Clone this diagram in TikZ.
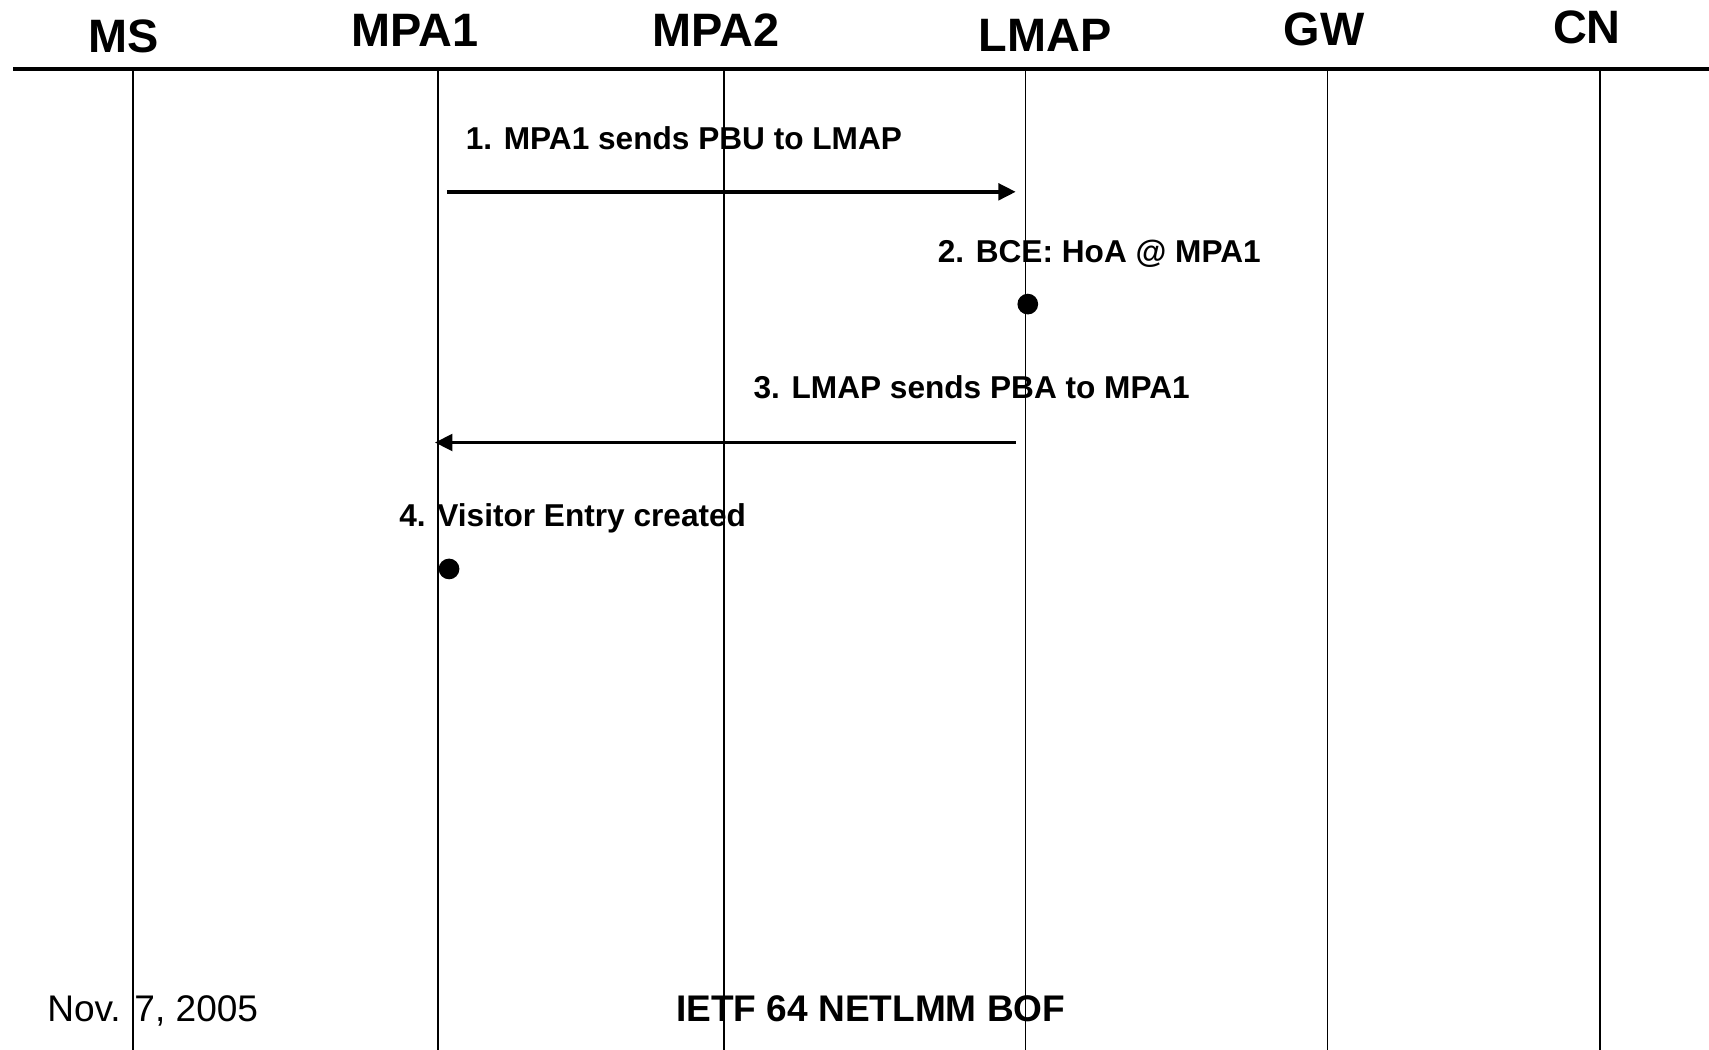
\documentclass[tikz,border=0pt]{standalone}
\usepackage{fontspec}
\setmainfont{Liberation Sans}
\usetikzlibrary{arrows.meta}
\tikzset{head/.style={font=\bfseries\fontsize{21.5}{25}\selectfont, anchor=base, inner sep=0pt},
msg/.style={font=\bfseries\fontsize{14.5}{17}\selectfont, anchor=base west, inner sep=0pt},
foot/.style={font=\fontsize{17}{20}\selectfont, anchor=base west, inner sep=0pt},
arr/.style={line width=1.8pt, -{Triangle[length=8pt,width=7.5pt]}},
dot/.style={circle, fill=black, inner sep=0pt, minimum size=9.5pt}}

\begin{document}
\begin{tikzpicture}[x=0.5pt,y=-0.5pt]
\useasboundingbox (0,0) rectangle (1568,963);

\coordinate (hl) at (12,63);
\coordinate (hr) at (1568,63);

% lifelines with their heads
\foreach \n/\x/\hx/\hy in {MS/122/113/48, MPA1/402/381/43, MPA2/664/657/43, LMAP/941/959/47, GW/1218/1215/42, CN/1468/1456/40}
{
    \coordinate (\n-top) at (\x,63);
    \coordinate (\n-bot) at (\x,963);
    \node[head] (\n) at (\hx,\hy) {\n};
    \draw[line width=0.75pt] (\n-top) -- (\n-bot);
}

\draw[line width=1.9pt] (hl) -- (hr);

\coordinate (m1a) at (410,176);
\coordinate (m1b) at (932,176);
\coordinate (m3a) at (932,406);
\coordinate (m3b) at (399,406);

\node[msg] (t1) at (427,137) {1. MPA1 sends PBU to LMAP};
\draw[arr] (m1a) -- (m1b);

\node[msg] (t2) at (860,241) {2. BCE: HoA @ MPA1};
\node[dot] (bce) at (943,279) {};

\node[msg] (t3) at (691,366) {3. LMAP sends PBA to MPA1};
\draw[arr] (m3a) -- (m3b);

\node[msg] (t4) at (366,483) {4. Visitor Entry created};
\node[dot] (visitor) at (412,522) {};

\node[foot] (date) at (43,937) {Nov. 7, 2005};
\node[foot, font=\bfseries\fontsize{17}{20}\selectfont] (bof) at (620,937) {IETF 64 NETLMM BOF};

\end{tikzpicture}
\end{document}
